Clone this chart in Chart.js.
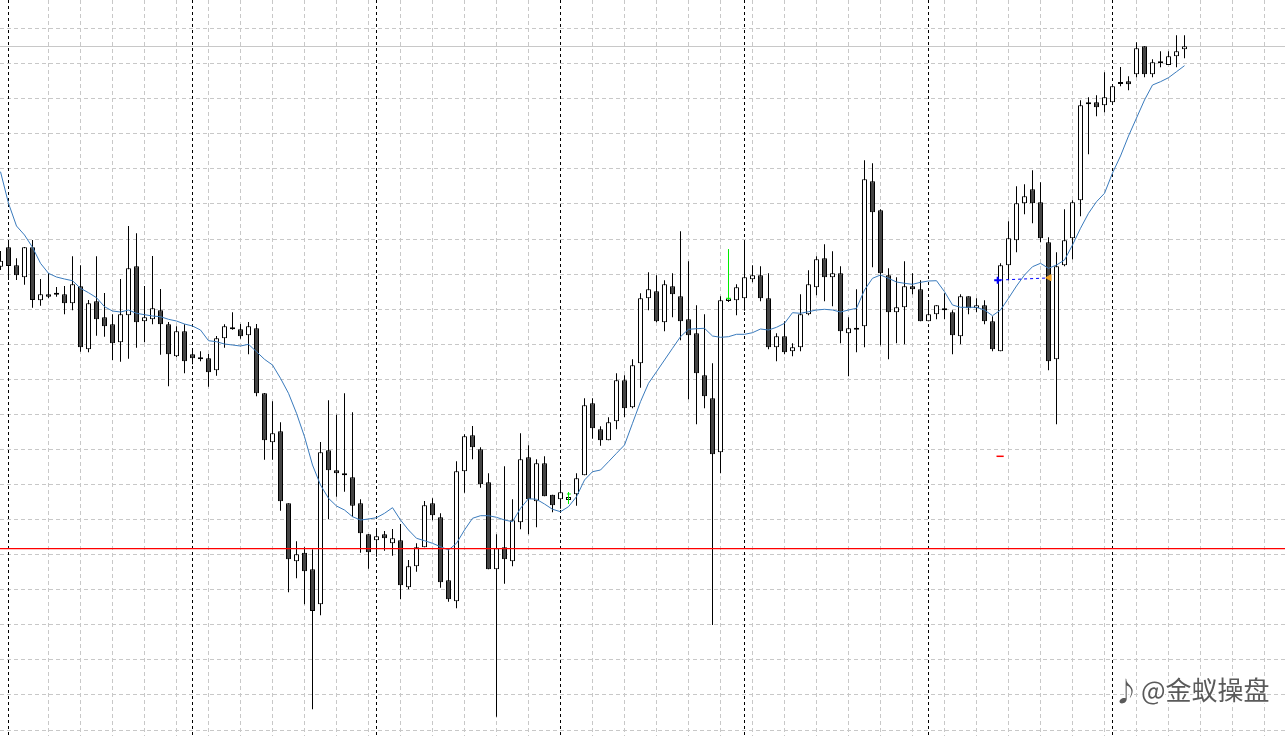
<!DOCTYPE html>
<html><head><meta charset="utf-8">
<script src="https://cdn.jsdelivr.net/npm/chart.js@4.4.1/dist/chart.umd.min.js"></script>
<style>html,body{margin:0;padding:0;background:#fff;overflow:hidden}canvas{display:block}</style>
</head><body><canvas id="c" width="1285" height="736"></canvas>
<script>
const open=[
1973.33,1975.27,1973.47,1972.27,1975.27,1969.97,1970.57,1970.67,1970.57,1969.67,
1971.37,1965.07,1969.87,1968.27,1967.57,1965.77,1968.47,1973.37,1967.87,1968.07,
1968.97,1967.57,1964.37,1966.87,1964.57,1964.23,1964.17,1962.97,1966.17,1967.13,
1967.07,1966.47,1967.17,1960.67,1955.77,1956.87,1949.67,1943.87,1944.73,1943.07,
1939.57,1954.97,1952.97,1952.67,1952.27,1949.67,1946.57,1945.97,1946.57,1945.67,
1945.97,1941.27,1943.37,1945.27,1949.67,1948.27,1941.97,1939.87,1952.87,1956.47,
1955.07,1951.77,1943.07,1945.27,1943.87,1947.77,1954.27,1949.87,1953.67,1950.53,
1950.07,1950.0,1950.57,1952.47,1959.67,1957.07,1955.97,1957.87,1961.97,1959.27,
1963.67,1970.17,1970.87,1967.77,1971.37,1970.37,1968.07,1966.67,1962.47,1960.17,
1954.77,1969.9,1969.97,1970.17,1972.07,1972.47,1970.17,1965.27,1966.37,1964.87,
1965.27,1968.57,1971.27,1974.17,1972.27,1972.67,1966.67,1967.1,1967.37,1981.87,
1978.97,1972.47,1968.77,1969.27,1971.37,1971.07,1967.87,1968.57,1969.17,1968.77,
1966.37,1970.37,1969.17,1969.47,1967.87,1964.87,1973.47,1975.97,1979.67,1981.07,
1979.77,1975.77,1964.07,1973.47,1976.17,1979.97,1989.57,1989.77,1989.47,1989.77,
1991.73,1991.87,1992.57,1995.37,1992.57,1993.73,1993.5,1994.37,1995.07
];
const high=[
1974.9,1975.7,1974.17,1975.3,1976.0,1972.1,1972.67,1971.3,1971.4,1974.37,
1973.47,1970.0,1974.37,1970.7,1968.57,1972.1,1977.4,1976.67,1971.4,1974.4,
1971.1,1967.8,1967.37,1967.57,1965.07,1964.87,1964.6,1966.4,1967.57,1968.77,
1967.6,1967.8,1967.6,1960.7,1959.87,1957.77,1949.67,1945.87,1945.27,1945.07,
1955.8,1959.97,1958.53,1960.67,1958.77,1950.07,1946.6,1947.0,1946.9,1947.1,
1947.6,1944.0,1945.67,1949.9,1950.17,1948.67,1945.07,1953.87,1956.57,1957.4,
1955.27,1952.67,1946.57,1953.37,1950.07,1956.67,1955.47,1954.07,1954.37,1950.53,
1951.77,1950.6,1952.67,1960.17,1960.17,1957.37,1958.27,1962.67,1962.47,1964.07,
1970.67,1972.77,1972.47,1971.97,1972.67,1976.87,1973.87,1969.47,1968.57,1963.67,
1970.37,1970.4,1971.57,1975.97,1973.47,1973.37,1972.67,1966.67,1967.87,1965.67,
1970.57,1972.97,1974.37,1975.57,1974.87,1973.37,1968.27,1971.07,1983.97,1983.67,
1979.07,1973.17,1972.27,1973.87,1972.67,1971.97,1969.77,1969.47,1970.67,1968.97,
1970.57,1970.37,1970.17,1969.97,1968.37,1973.67,1977.87,1981.37,1981.57,1982.97,
1981.77,1976.27,1974.77,1979.07,1979.97,1989.97,1990.27,1990.47,1992.77,1991.5,
1993.3,1992.37,1995.77,1995.37,1994.07,1994.87,1994.87,1996.47,1996.47
];
const low=[
1973.0,1972.0,1972.0,1971.53,1969.23,1969.43,1970.17,1970.33,1968.57,1968.97,
1964.83,1964.77,1966.43,1966.33,1964.0,1963.83,1964.13,1965.23,1965.77,1967.57,
1964.53,1961.37,1964.3,1962.67,1963.57,1963.87,1961.33,1962.43,1965.23,1967.03,
1966.13,1964.57,1960.37,1954.03,1954.03,1948.93,1940.77,1942.17,1939.57,1929.07,
1938.47,1948.07,1950.33,1950.83,1948.33,1944.73,1943.13,1944.33,1944.93,1944.43,
1940.07,1941.07,1942.83,1945.27,1947.97,1941.23,1939.83,1939.17,1950.73,1954.07,
1951.23,1943.07,1928.33,1941.63,1943.37,1947.07,1946.57,1947.27,1950.37,1948.77,
1949.13,1949.7,1949.43,1952.47,1956.13,1955.43,1955.97,1957.07,1958.27,1959.17,
1961.23,1968.97,1967.77,1966.87,1968.27,1965.97,1960.07,1957.57,1959.17,1937.5,
1952.67,1969.8,1968.47,1968.93,1971.77,1969.87,1965.07,1963.87,1964.57,1964.37,
1964.87,1968.47,1970.47,1969.87,1969.37,1965.67,1962.37,1964.77,1965.27,1973.27,
1965.47,1964.07,1965.67,1965.57,1970.57,1967.87,1967.87,1968.07,1968.07,1964.57,
1965.57,1968.57,1968.77,1967.57,1964.87,1964.87,1971.97,1974.77,1978.57,1977.67,
1975.77,1962.97,1957.57,1973.37,1974.07,1978.37,1984.57,1988.37,1988.77,1989.7,
1991.37,1990.97,1992.27,1992.27,1992.27,1993.27,1993.5,1993.27,1994.17
];
const close=[
1973.93,1973.4,1972.47,1975.27,1970.0,1970.57,1970.33,1970.53,1969.67,1971.57,
1965.27,1969.67,1968.07,1967.37,1965.67,1968.57,1973.17,1967.77,1968.27,1969.17,
1967.57,1964.57,1966.87,1963.87,1964.17,1964.07,1962.77,1966.17,1967.37,1967.07,
1966.37,1967.37,1960.67,1955.97,1956.67,1949.87,1944.07,1944.57,1942.87,1938.9,
1954.77,1952.97,1952.67,1952.47,1949.43,1946.67,1944.77,1946.37,1946.17,1946.17,
1941.47,1943.37,1945.27,1949.47,1948.47,1941.77,1940.07,1952.87,1956.37,1955.27,
1951.57,1943.07,1945.17,1944.07,1947.97,1954.07,1950.07,1953.67,1950.37,1949.47,
1950.77,1950.3,1952.17,1959.47,1957.17,1955.97,1957.77,1961.97,1959.17,1963.47,
1970.17,1971.07,1967.87,1971.57,1970.57,1967.87,1966.47,1962.67,1960.37,1954.57,
1969.97,1970.15,1971.27,1972.27,1972.47,1970.17,1965.27,1966.37,1964.77,1965.27,
1968.57,1971.57,1974.07,1972.27,1972.67,1966.87,1967.17,1967.03,1982.07,1978.77,
1972.67,1968.77,1969.27,1971.37,1971.07,1967.87,1968.57,1969.47,1968.97,1966.47,
1970.37,1969.17,1969.47,1967.87,1965.07,1973.47,1976.17,1979.67,1980.37,1979.67,
1976.17,1963.87,1973.37,1975.97,1979.77,1989.47,1989.77,1989.27,1990.27,1991.37,
1991.6,1991.57,1995.17,1992.57,1993.77,1993.67,1994.37,1994.87,1995.37
];
const ma=[
1982.83,1979.67,1977.4,1976.5,1975.27,1973.67,1972.67,1972.3,1972.1,1971.93,
1971.17,1970.73,1970.23,1969.33,1968.9,1968.8,1969.0,1968.67,1968.53,1968.4,
1968.33,1968.07,1967.9,1967.6,1967.4,1967.0,1965.93,1965.83,1965.6,1965.5,
1965.4,1965.57,1964.83,1964.07,1963.5,1962.17,1960.67,1958.67,1956.33,1953.5,
1951.5,1950.17,1949.4,1949.0,1948.33,1948.0,1948.1,1948.23,1948.67,1949.23,
1948.0,1947.0,1946.17,1945.93,1945.67,1945.33,1945.0,1945.67,1947.0,1948.17,
1948.43,1948.43,1948.27,1948.0,1947.83,1949.17,1950.13,1950.07,1949.6,1949.07,
1948.83,1949.33,1950.33,1952.0,1952.83,1953.0,1953.83,1954.67,1955.5,1957.67,
1959.83,1961.67,1962.83,1964.0,1965.17,1966.33,1967.07,1967.13,1967.17,1966.4,
1966.27,1966.33,1966.57,1966.57,1966.73,1967.1,1967.0,1967.27,1967.67,1968.73,
1968.67,1968.83,1969.0,1969.07,1969.0,1968.8,1969.0,1969.17,1971.0,1972.17,
1972.5,1972.17,1971.8,1971.67,1971.57,1971.77,1971.9,1971.93,1970.83,1969.5,
1969.27,1969.27,1969.27,1969.0,1968.43,1969.0,1970.17,1971.4,1972.5,1973.33,
1973.67,1973.17,1973.5,1974.0,1975.5,1977.17,1978.67,1979.83,1980.67,1982.7,
1984.4,1986.4,1988.2,1990.0,1991.5,1991.83,1992.23,1992.83,1993.43
];
// horizontal grid price levels
const gridLevels=[1997.18,1993.67,1990.16,1986.66,1983.15,1979.65,1976.14,1972.63,1969.13,1965.62,1962.11,1958.61,1955.1,1951.6,1948.09,1944.58,1941.08,1937.57,1934.07,1930.56,1927.05];
// period separators (bar indices)
const separators=[1,24,47,70,93,116,139];
// horizontal red level
const redLevel=1945.13;
// objects on chart
const greenArrowA=[[71,1950.77],[71,1949.6]], greenArrowABar=[[70.8,1950.6],[71.3,1950.6]];
const greenArrowB=[[91,1975.07],[91,1970.0]], greenArrowBBar=[[90.7,1970.17],[91.3,1970.17]];
const blueTrend=[[124.95,1972.0],[130.8,1972.2]];
const blueMark=[[124.65,1971.97]];
const orangeMark=[[131.1,1972.23]];
const redDash=[[124.5,1954.37],[125.4,1954.37]];

const pts=a=>a.map(p=>({x:p[0],y:p[1]}));
const idx=open.map((_,i)=>i);

const bgPlugin={
  id:'bgPlugin',
  beforeDraw(chart){
    const c=chart.ctx; c.save(); c.fillStyle='#fff'; c.fillRect(0,0,chart.width,chart.height); c.restore();
  },
  beforeDatasetsDraw(chart){
    const {ctx:c,chartArea:a,scales:{x,y}}=chart;
    c.save();
    c.lineWidth=1;
    c.strokeStyle='#c8c8c8'; c.setLineDash([4,3]);
    gridLevels.forEach(v=>{const py=Math.round(y.getPixelForValue(v))+0.5;c.beginPath();c.moveTo(a.left,py);c.lineTo(a.right,py);c.stroke();});
    for(let i=6;i<=160;i+=4){
      if(separators.includes(i)) continue;
      const px=Math.floor(x.getPixelForValue(i))+0.5;c.beginPath();c.moveTo(px,a.top);c.lineTo(px,a.bottom);c.stroke();
    }
    c.setLineDash([]);
    c.fillStyle='#c8c8c8';
    c.fillRect(a.left,Math.round(y.getPixelForValue(close[close.length-1])),a.right-a.left,1);
    c.strokeStyle='#000'; c.setLineDash([3,3]);
    separators.forEach(i=>{const px=Math.floor(x.getPixelForValue(i))+0.5;c.beginPath();c.moveTo(px,a.top);c.lineTo(px,a.bottom);c.stroke();});
    c.restore();
  },
  afterDraw(chart){
    const {ctx:c,chartArea:a,scales:{y}}=chart;
    c.save();
    c.setLineDash([]);
    c.globalAlpha=1;
    c.globalCompositeOperation='source-over';
    c.strokeStyle='#ff0000';
    c.lineWidth=1.3;
    const ry=y.getPixelForValue(redLevel);
    c.beginPath();c.moveTo(a.left,ry);c.lineTo(a.right,ry);c.stroke();
    c.font='26px "Noto Sans CJK SC", sans-serif';
    c.textBaseline='middle';
    c.lineJoin='round';
    c.strokeStyle='rgba(255,255,255,0.9)'; c.lineWidth=3;
    c.fillStyle='#5a5a5a';
    c.strokeText('♪',1113,691); c.fillText('♪',1113,691);
    c.strokeText('@金蚁操盘',1141,690); c.fillText('@金蚁操盘',1141,690);
    c.restore();
  }
};

const lineDs=(data,color,extra)=>Object.assign({type:'line',data:pts(data),borderColor:color,borderWidth:1,pointRadius:0,fill:false,order:0},extra||{});

new Chart(document.getElementById('c'),{
  type:'bar',
  data:{datasets:[
    lineDs(greenArrowA,'#00ee00'),
    lineDs(greenArrowABar,'#00ee00'),
    lineDs(greenArrowB,'#00ee00'),
    lineDs(greenArrowBBar,'#00ee00'),
    lineDs(blueTrend,'#0000ff',{borderDash:[3,3]}),
    lineDs(redDash,'#ff0000',{borderWidth:1.5}),
    {type:'line',data:pts(blueMark),showLine:false,pointStyle:'cross',pointRadius:3.5,borderColor:'#0000ff',borderWidth:2,order:0},
    {type:'line',data:pts(orangeMark),showLine:false,pointStyle:'triangle',pointRotation:-90,pointRadius:3.5,backgroundColor:'#f0a020',borderColor:'#f0a020',borderWidth:1,order:0},
    {type:'line',label:'MA',data:idx.map(i=>({x:i,y:ma[i]})),borderColor:'#3a7bbd',borderWidth:1,pointRadius:0,fill:false,order:1},
    {type:'bar',label:'body',data:idx.map(i=>({x:i,y:[Math.min(open[i],close[i]),Math.max(open[i],close[i])]})),
      backgroundColor:idx.map(i=>close[i]>=open[i]?'#ffffff':'#444444'),borderColor:'#000',borderWidth:1,borderSkipped:false,
      barThickness:5,grouped:false,minBarLength:2,inflateAmount:0,order:2},
    {type:'bar',label:'wick',data:idx.map(i=>({x:i,y:[Math.min(low[i],open[i],close[i]),Math.max(high[i],open[i],close[i])]})),
      backgroundColor:'#000',borderWidth:0,barThickness:1,grouped:false,inflateAmount:0,order:3}
  ]},
  options:{
    responsive:false,animation:false,devicePixelRatio:1,
    layout:{padding:0,autoPadding:false},
    plugins:{legend:{display:false},tooltip:{enabled:false}},
    scales:{
      x:{type:'linear',offset:false,min:-0.0625,max:160.5625,display:false},
      y:{type:'linear',min:1926.4,max:2000,display:false}
    }
  },
  plugins:[bgPlugin]
});
</script>
</body></html>
